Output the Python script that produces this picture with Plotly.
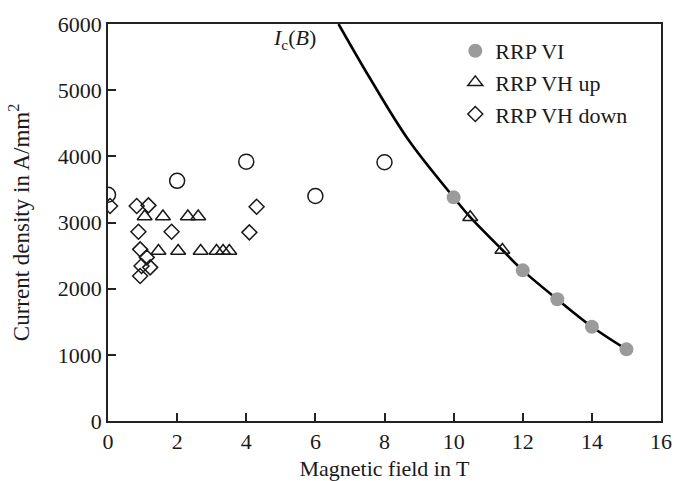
import plotly.graph_objects as go

# RRP VI (filled gray circles)
vi_b = [10, 12, 13, 14, 15]
vi_j = [3380, 2277, 1839, 1425, 1083]

# RRP VH up (triangles)
up_b = [1.06, 1.59, 2.31, 2.61, 1.46, 2.03, 2.68, 3.14, 3.33, 3.51, 10.48, 11.41]
up_j = [3090, 3090, 3090, 3090, 2570, 2570, 2570, 2570, 2570, 2570, 3080, 2584]

# RRP VH down (diamonds)
down_b = [0.06, 0.83, 1.17, 0.88, 1.84, 0.93, 1.12, 0.97, 1.22, 0.93, 4.30, 4.09]
down_j = [3249, 3249, 3259, 2861, 2861, 2594, 2473, 2342, 2322, 2191, 3238, 2851]

# open circles (no legend entry)
open_b = [0, 2, 4, 6, 8]
open_j = [3420, 3630, 3920, 3400, 3910]

# Ic(B) curve, points
curve_b = [6.67, 7.58, 8.69, 10.0, 10.48, 11.41, 12.0, 13.0, 14.0, 15.0]
curve_j = [6000, 5180, 4250, 3380, 3080, 2584, 2277, 1839, 1425, 1083]

x_ticks = [0, 2, 4, 6, 8, 10, 12, 14, 16]
y_ticks = [0, 1000, 2000, 3000, 4000, 5000, 6000]

FONT = "Liberation Serif"
INK = "#1a1a1a"
FS = 22

fig = go.Figure()

fig.add_trace(go.Scatter(
    x=curve_b, y=curve_j, mode="lines", line=dict(color="black", width=2.6, shape="spline"),
    showlegend=False, hoverinfo="skip"))

fig.add_trace(go.Scatter(
    x=open_b, y=open_j, mode="markers", showlegend=False,
    marker=dict(symbol="circle-open", size=15, color=INK, line=dict(width=1.5, color=INK))))

fig.add_trace(go.Scatter(
    x=vi_b, y=vi_j, mode="markers", name="RRP VI",
    marker=dict(symbol="circle", size=14, color="#9b9b9b", line=dict(width=0))))

fig.add_trace(go.Scatter(
    x=up_b, y=up_j, mode="markers", name="RRP VH up",
    marker=dict(symbol="triangle-up-open", size=13, color=INK, line=dict(width=1.5, color=INK))))

fig.add_trace(go.Scatter(
    x=down_b, y=down_j, mode="markers", name="RRP VH down",
    marker=dict(symbol="diamond-open", size=11.5, color=INK, line=dict(width=1.5, color=INK))))

fig.add_annotation(
    x=5.4, y=5780, xref="x", yref="y", showarrow=False,
    text="<i>I</i><sub>c</sub>(<i>B</i>)", font=dict(family=FONT, size=FS, color=INK))

axis_common = dict(
    showgrid=False, zeroline=False, showline=True, linecolor="#222", linewidth=1.5,
    mirror=True, ticks="inside", ticklen=8, tickwidth=1.5, tickcolor="#222",
    automargin=False, tickfont=dict(family=FONT, size=FS, color=INK))

fig.update_xaxes(range=[0, 16], tickvals=x_ticks, ticktext=[str(v) for v in x_ticks],
                 title=dict(text="Magnetic field in T", font=dict(family=FONT, size=FS, color=INK), standoff=8),
                 **axis_common)
fig.update_yaxes(range=[0, 6000], tickvals=y_ticks, ticktext=[str(v) for v in y_ticks],
                 title=dict(text="Current density in A/mm<sup>2</sup>", font=dict(family=FONT, size=23, color=INK), standoff=22),
                 **axis_common)

fig.update_layout(
    width=674, height=481,
    margin=dict(l=108, r=13, t=24, b=60),
    paper_bgcolor="white", plot_bgcolor="white",
    font=dict(family=FONT, size=FS, color=INK),
    legend=dict(x=0.628, y=0.985, xanchor="left", yanchor="top", bgcolor="rgba(0,0,0,0)",
                font=dict(family=FONT, size=FS, color=INK), itemwidth=30, tracegroupgap=0),
)

fig.write_html("out.html", config={"displayModeBar": False},
               post_script="document.body.style.margin='0';document.body.style.padding='0';")
